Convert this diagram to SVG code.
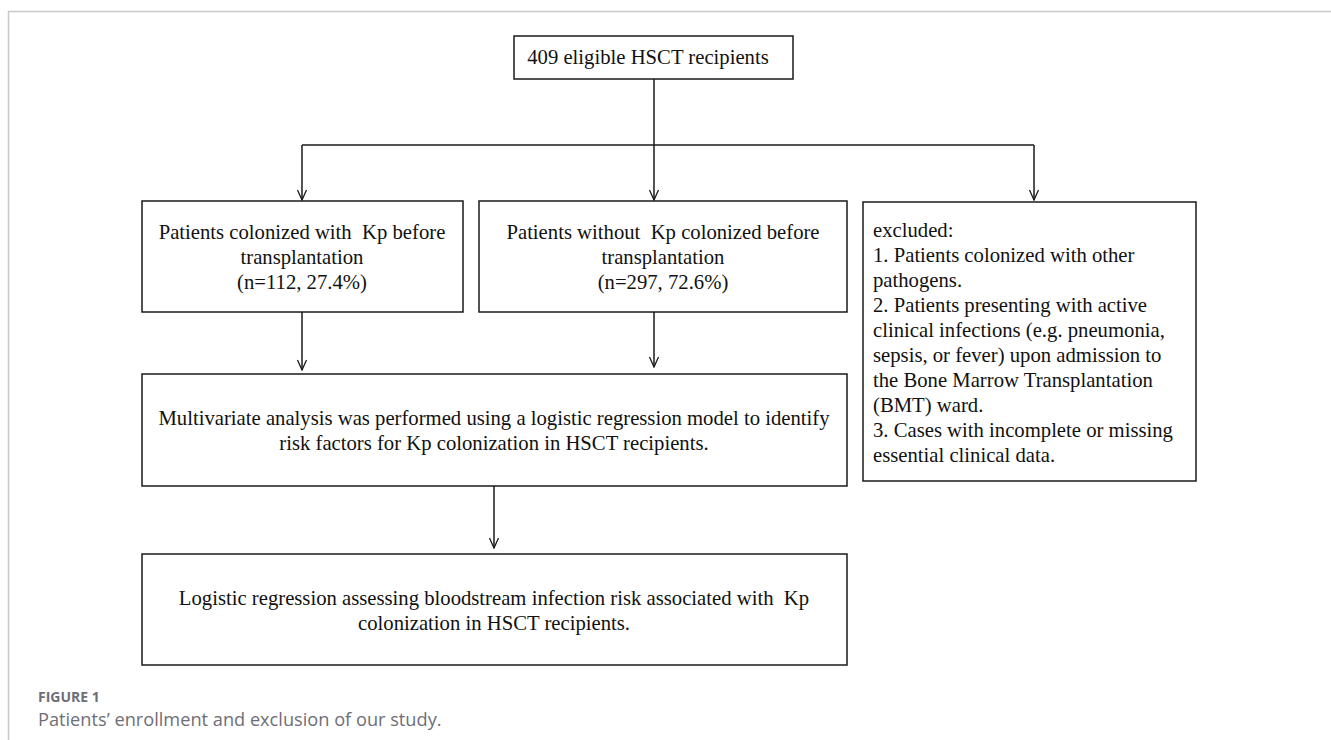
<svg xmlns="http://www.w3.org/2000/svg" width="1331" height="740" viewBox="0 0 1331 740">
<style>
.box{fill:#fff;stroke:#1a1a1a;stroke-width:1.5}
.t{font-family:"Liberation Serif","Times New Roman",serif;font-size:20.7px;fill:#111;white-space:pre}
.c{text-anchor:middle}
.ln{stroke:#1a1a1a;stroke-width:1.5;fill:none}
.cap{font-family:"Open Sans","Noto Sans",sans-serif;fill:#6e6e78}
</style>
<defs>
<marker id="arr" markerWidth="12" markerHeight="12" refX="11" refY="6" orient="auto" markerUnits="userSpaceOnUse" viewBox="0 0 12 12">
<polyline points="1,1.5 11,6 1,10.5" fill="none" stroke="#1a1a1a" stroke-width="1.3"/>
</marker>
</defs>
<rect width="1331" height="740" fill="#fff"/>
<path d="M8.5 740 V11.5 H1331" fill="none" stroke="#c8c8cc" stroke-width="1.5"/>
<g id="connectors">
<line class="ln" x1="654" y1="79" x2="654" y2="200" marker-end="url(#arr)"/>
<line class="ln" x1="302" y1="145" x2="1034" y2="145"/>
<line class="ln" x1="302" y1="145" x2="302" y2="200" marker-end="url(#arr)"/>
<line class="ln" x1="1034" y1="145" x2="1034" y2="200" marker-end="url(#arr)"/>
<line class="ln" x1="302" y1="312" x2="302" y2="370" marker-end="url(#arr)"/>
<line class="ln" x1="654" y1="312" x2="654" y2="367" marker-end="url(#arr)"/>
<line class="ln" x1="494" y1="486" x2="494" y2="548" marker-end="url(#arr)"/>
</g>
<g id="n0">
<rect class="box" x="514" y="36" width="279" height="43"/>
<text class="t c" x="648" y="64">409 eligible HSCT recipients</text>
</g>
<g id="n1">
<rect class="box" x="142" y="201" width="321" height="111"/>
<text class="t c" x="302" y="239">Patients colonized with  Kp before</text>
<text class="t c" x="302" y="264">transplantation</text>
<text class="t c" x="302" y="289">(n=112, 27.4%)</text>
</g>
<g id="n2">
<rect class="box" x="479" y="201" width="368" height="111"/>
<text class="t c" x="663" y="239">Patients without  Kp colonized before</text>
<text class="t c" x="663" y="264">transplantation</text>
<text class="t c" x="663" y="289">(n=297, 72.6%)</text>
</g>
<g id="n3">
<rect class="box" x="863" y="202" width="333" height="279"/>
<text class="t" x="873" y="237">excluded:</text>
<text class="t" x="873" y="262">1. Patients colonized with other</text>
<text class="t" x="873" y="287">pathogens.</text>
<text class="t" x="873" y="312">2. Patients presenting with active</text>
<text class="t" x="873" y="337">clinical infections (e.g. pneumonia,</text>
<text class="t" x="873" y="362">sepsis, or fever) upon admission to</text>
<text class="t" x="873" y="387">the Bone Marrow Transplantation</text>
<text class="t" x="873" y="412">(BMT) ward.</text>
<text class="t" x="873" y="437">3. Cases with incomplete or missing</text>
<text class="t" x="873" y="462">essential clinical data.</text>
</g>
<g id="n4">
<rect class="box" x="142" y="374" width="705" height="112"/>
<text class="t c" x="494" y="425">Multivariate analysis was performed using a logistic regression model to identify</text>
<text class="t c" x="494" y="450">risk factors for Kp colonization in HSCT recipients.</text>
</g>
<g id="n5">
<rect class="box" x="142" y="554" width="705" height="111"/>
<text class="t c" x="494" y="605">Logistic regression assessing bloodstream infection risk associated with  Kp</text>
<text class="t c" x="494" y="630">colonization in HSCT recipients.</text>
</g>
<text class="cap" x="38" y="702" font-size="14" font-weight="bold">FIGURE 1</text>
<text class="cap" x="38" y="726" font-size="18.2">Patients’ enrollment and exclusion of our study.</text>
</svg>
